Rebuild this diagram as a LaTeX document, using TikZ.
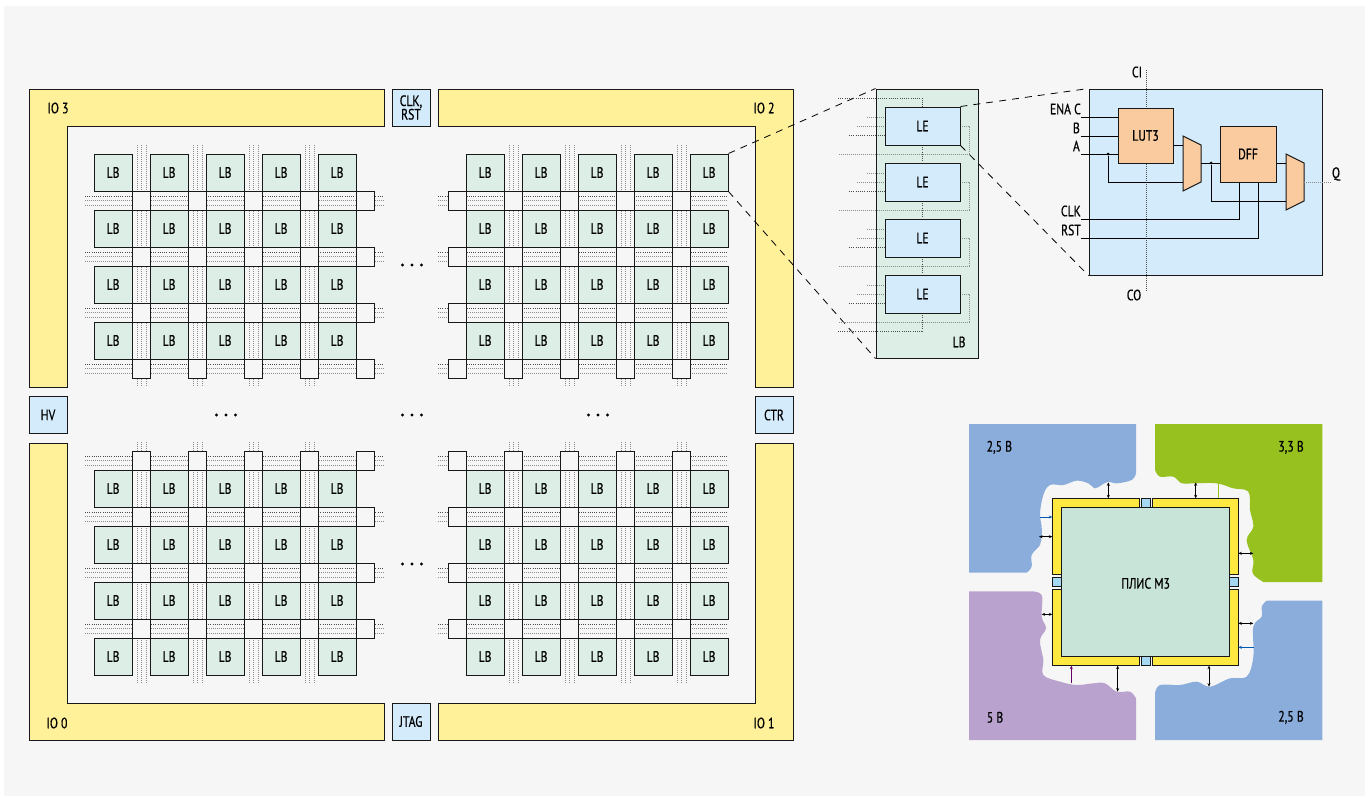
\documentclass[tikz,border=0pt]{standalone}
\usepackage{fontspec}
\setmainfont[FakeStretch=0.78,FakeBold=0.6]{PT Sans}
\usetikzlibrary{calc,arrows.meta}
\definecolor{bgc}{HTML}{F6F6F6}
\definecolor{ioy}{HTML}{FFF09A}
\definecolor{lbg}{HTML}{DCEEE5}
\definecolor{leb}{HTML}{D3EBFB}
\definecolor{org}{HTML}{FBCBA0}
\definecolor{vblue}{HTML}{8BADDC}
\definecolor{vgreen}{HTML}{96C11F}
\definecolor{vpurple}{HTML}{B9A2CD}
\definecolor{fy}{HTML}{FFE83F}
\definecolor{fg}{HTML}{C8E3D7}
\definecolor{fb}{HTML}{A5D8F3}
\definecolor{edge}{HTML}{181818}
\tikzset{
 txt/.style={inner sep=0pt,font=\fontsize{15}{15.5}\selectfont,text=black},
 io/.style={draw=edge,line width=1pt,fill=ioy},
 lbbox/.style={txt,draw=edge,line width=1pt,fill=lbg,minimum width=38pt,minimum height=37pt},
 swbox/.style={draw=edge,line width=1pt,fill=bgc,inner sep=0pt,minimum width=18pt,minimum height=19pt},
 lebox/.style={txt,draw=edge,line width=1pt,fill=leb,minimum width=75pt,minimum height=38pt},
 sbox/.style={txt,align=center,draw=edge,line width=1pt,fill=leb,minimum width=38pt,minimum height=37pt},
 dw/.style={line width=.7pt,draw=black!45,dash pattern=on 1pt off 1pt},
 dk/.style={line width=.7pt,draw=black!70,dash pattern=on 1pt off 1.2pt},
 wire/.style={line width=.9pt,draw=black},
 dashl/.style={line width=.8pt,draw=black,dash pattern=on 7pt off 6pt},
 fpga/.style={draw=edge,line width=.9pt,fill=fy},
 chipbox/.style={draw=edge,line width=.9pt,fill=fb,minimum size=9.5pt,inner sep=0pt},
 bio/.style={line width=.6pt,draw=black,{Stealth[length=3.5pt,width=3pt]}-{Stealth[length=3.5pt,width=3pt]}},
 tip/.style={-{Stealth[length=3.5pt,width=3pt]}},
 dotm/.style={circle,fill=black,inner sep=0pt,minimum size=3.4pt},
 jn/.style={circle,fill=black,inner sep=0pt,minimum size=3pt},
}
\newcommand{\threedots}[3]{%
  \node[dotm] (#1a) at (#2-9.5,#3) {};
  \node[dotm] (#1b) at (#2,#3) {};
  \node[dotm] (#1c) at (#2+9.5,#3) {};}
\begin{document}
\begin{tikzpicture}[x=1pt,y=-1pt]
\useasboundingbox (0,0) rectangle (1371,796);
\fill[white] (0,0) rectangle (1371,796);
\fill[bgc] (4,6) rectangle (1365,796);
% IO frames
\path[io] (29,89)--(384,89)--(384,126)--(67,126)--(67,387)--(29,387)--cycle;
\path[io] (438,89)--(793,89)--(793,387)--(755,387)--(755,126)--(438,126)--cycle;
\path[io] (29,443)--(67,443)--(67,703)--(384,703)--(384,740)--(29,740)--cycle;
\path[io] (793,443)--(793,740)--(438,740)--(438,703)--(755,703)--(755,443)--cycle;
\node[txt] (io3) at (58,108) {IO 3};
\node[txt] (io2) at (764,108) {IO 2};
\node[txt] (io0) at (57,723) {IO 0};
\node[txt] (io1) at (764,723) {IO 1};
\node[sbox] (clk) at (411,107.5) {CLK,\\[-2pt]RST};
\node[sbox] (hv) at (48,415) {HV};
\node[sbox] (ctr) at (774,415) {CTR};
\node[sbox] (jtag) at (411,721.5) {JTAG};
% grid wires
\foreach \xa/\xb/\yy in {85/384/191,85/384/247,85/384/303,85/384/359,
  438/728/191,438/728/247,438/728/303,438/728/359,
  85/384/451,85/384/507,85/384/563,85/384/619,
  438/728/451,438/728/507,438/728/563,438/728/619}{
  \draw[dk] (\xa,\yy+5)--(\xb,\yy+5);
  \draw[dw] (\xa,\yy+9)--(\xb,\yy+9);
  \draw[dw] (\xa,\yy+14)--(\xb,\yy+14);
}
\foreach \xx in {132,188,244,300,504,560,616,672}{
  \foreach \dx in {5,9,14}{
   \draw[dw] (\xx+\dx,145)--(\xx+\dx,386);
   \draw[dw] (\xx+\dx,442)--(\xx+\dx,684);
  }
}
% switches and LBs
\foreach \gx/\cola/\colb/\colc/\cold/\cole/\lbx in {L/132/188/244/300/356/94,R/448/504/560/616/672/466}{
 \foreach \gy/\rowa/\rowb/\rowc/\rowd/\lby in {T/191/247/303/359/154,B/451/507/563/619/470}{
  \foreach \sx in {\cola,\colb,\colc,\cold,\cole}{
   \foreach \sy in {\rowa,\rowb,\rowc,\rowd}{
    \node[swbox] (sw\gx\gy-\sx-\sy) at (\sx+9,\sy+9.5) {};
   }
  }
  \foreach \i in {0,...,4}{
   \foreach \j in {0,...,3}{
    \node[lbbox] (lb\gx\gy-\i-\j) at ({\lbx+19+56*\i},{\lby+18.5+56*\j}) {LB};
   }
  }
 }
}
\threedots{d1}{412}{265}
\threedots{d2}{412}{564}
\threedots{d3}{226}{415}
\threedots{d4}{412}{415}
\threedots{d5}{598}{415}
% LB detail
\node[draw=edge,line width=1pt,fill=lbg,minimum width=102pt,minimum height=269pt,inner sep=0pt] (lbd) at (927,223.5) {};
\draw[dashl] (lbRT-4-0.north east)--(lbd.north west);
\draw[dashl] (lbRT-4-0.south east)--(lbd.south west);
\foreach \n/\yy in {1/107,2/163,3/219,4/275}{
  \draw[dw] (867,\yy+10)--(885,\yy+10);
  \draw[dw] (857,\yy+19)--(885,\yy+19);
  \draw[dk] (849,\yy+28)--(885,\yy+28);
  \draw[dw] (960,\yy+19)--(969,\yy+19)--(969,\yy+47)--(838,\yy+47);
}
\draw[dk] (838,98)--(922,98)--(922,107);
\foreach \yy in {145,201,257}{\draw[dk] (922,\yy)--(922,\yy+18);}
\draw[dk] (922,313)--(922,331)--(838,331);
\node[lebox] (le1) at (922.5,126) {LE};
\node[lebox] (le2) at (922.5,182) {LE};
\node[lebox] (le3) at (922.5,238) {LE};
\node[lebox] (le4) at (922.5,294) {LE};
\node[txt] (lbl) at (959,342) {LB};
% LE detail
\node[draw=edge,line width=1pt,fill=leb,minimum width=233pt,minimum height=186pt,inner sep=0pt] (led) at (1205.5,182) {};
\draw[dashl] (le1.north east)--(led.north west);
\draw[dashl] (le1.south east)--(led.south west);
\draw[line width=.6pt,draw=black!70,dash pattern=on 1pt off 1pt] (1146,70)--(1146,292);
\node[draw=edge,line width=1pt,fill=org,txt,minimum width=55pt,minimum height=55pt] (lut) at (1145.5,135.5) {LUT3};
\node[draw=edge,line width=1pt,fill=org,txt,minimum width=56pt,minimum height=56pt] (dff) at (1248,154) {DFF};
\path[draw=edge,line width=1pt,fill=org] (1183,136)--(1201,145)--(1201,182)--(1183,191)--cycle;
\path[draw=edge,line width=1pt,fill=org] (1286,154)--(1304,163)--(1304,201)--(1286,210)--cycle;
\coordinate (m1a) at (1183,145);\coordinate (m1b) at (1183,182);\coordinate (m1o) at (1201,163);
\coordinate (m2a) at (1286,163);\coordinate (m2b) at (1286,201);\coordinate (m2o) at (1304,182);
\coordinate (ena) at (1081,117);\coordinate (b) at (1081,136);\coordinate (a) at (1081,154);
\coordinate (clkp) at (1081,219);\coordinate (rstp) at (1081,238);\coordinate (qp) at (1332,182);
\coordinate (cka) at (1239,219);\coordinate (rsa) at (1258,238);
\draw[wire] (ena)--(lut.west|-ena);
\draw[wire] (b)--(lut.west|-b);
\draw[wire] (a)--(lut.west|-a);
\draw[wire] (lut.east|-m1a)--(m1a);
\node[jn] (j1) at (1108,154) {};
\draw[wire] (j1)--(j1|-m1b)--(m1b);
\draw[wire] (m1o)--(dff.west|-m1o);
\node[jn] (j2) at (1211,163) {};
\draw[wire] (j2)--(j2|-m2b)--(m2b);
\draw[wire] (dff.east|-m2a)--(m2a);
\draw[wire] (clkp)--(cka)--(cka|-dff.south);
\draw[wire] (rstp)--(rsa)--(rsa|-dff.south);
\draw[dw] (m2o)--(qp);
\node[txt] (tci) at (1137,72) {CI};
\node[txt] (tco) at (1134,295) {CO};
\node[txt,anchor=east] (tena) at (1081,109) {ENA C};
\node[txt,anchor=east] (tb) at (1080,128) {B};
\node[txt,anchor=east] (ta) at (1080,146) {A};
\node[txt,anchor=east] (tclk) at (1081,211) {CLK};
\node[txt,anchor=east] (trst) at (1081,230) {RST};
\node[txt] (tq) at (1336,174) {Q};
% voltage diagram
\begin{scope}[shift={(960,420)},x=1pt/3,y=-1pt/3]
\fill[vblue] (27,12)--(528,12)--plot[smooth,tension=.6] coordinates {(528,160)(515,180)(470,190)(445,185)(425,195)(405,205)(385,190)(350,182)(310,195)(270,195)(250,225)(240,280)(245,320)(245,345)(240,375)(215,405)(215,440)(200,458)}--(27,458)--cycle;
\fill[vgreen] (1087,12)--(1087,486)--plot[smooth,tension=.6] coordinates {(910,486)(878,460)(880,420)(860,360)(880,320)(870,270)(865,215)(820,205)(770,190)(700,190)(665,190)(640,170)(600,170)(585,150)}--(585,12)--cycle;
\fill[vpurple] (27,514)--plot[smooth,tension=.6] coordinates {(210,514)(245,525)(245,590)(258,625)(240,660)(250,720)(250,765)(300,785)(350,795)(400,790)(435,790)(470,815)(510,815)(528,835)}--(528,960)--(27,960)--cycle;
\fill[vblue] (1087,542)--plot[smooth,tension=.6] coordinates {(920,542)(905,560)(905,590)(880,620)(880,710)(860,770)(810,775)(750,800)(710,785)(660,795)(600,795)(585,820)}--(585,960)--(1087,960)--cycle;
\node[txt] (v1) at (118,82) {2,5 В};
\node[txt] (v2) at (993,82) {3,3 В};
\node[txt] (v3) at (105,892) {5 В};
\node[txt] (v4) at (993,892) {2,5 В};
\path[fill=fg,draw=edge,line width=.9pt] (305,263) rectangle (808,708);
\path[fpga] (277,235)--(537,235)--(537,263)--(305,263)--(305,464)--(277,464)--cycle;
\path[fpga] (577,235)--(835,235)--(835,464)--(808,464)--(808,263)--(577,263)--cycle;
\path[fpga] (277,508)--(305,508)--(305,708)--(537,708)--(537,737)--(277,737)--cycle;
\path[fpga] (835,508)--(835,737)--(577,737)--(577,708)--(808,708)--(808,508)--cycle;
\node[chipbox] (st) at (557.5,249) {};
\node[chipbox] (sb) at (557.5,722.5) {};
\node[chipbox] (sl) at (291,486) {};
\node[chipbox] (sr) at (821.5,486) {};
\node[txt] (chip) at (557,490) {ПЛИС М3};
\draw[bio] (445,187)--(445,235);
\draw[bio] (707,187)--(707,235);
\draw[bio] (237,350)--(277,350);
\draw[bio] (835,400)--(880,400);
\draw[bio] (245,583)--(277,583);
\draw[bio] (835,610)--(880,610);
\draw[bio] (473,737)--(473,815);
\draw[bio] (747,737)--(747,800);
\draw[line width=.9pt,draw=vgreen] (775,190)--(775,235);
\draw[line width=.9pt,draw=blue!50!cyan!70!black,tip] (240,291)--(277,291);
\draw[line width=.9pt,draw=blue!50!cyan!70!black,tip] (881,682)--(835,682);
\draw[line width=.9pt,draw=violet!80!black,tip] (334,790)--(334,737);
\end{scope}
\end{tikzpicture}
\end{document}
